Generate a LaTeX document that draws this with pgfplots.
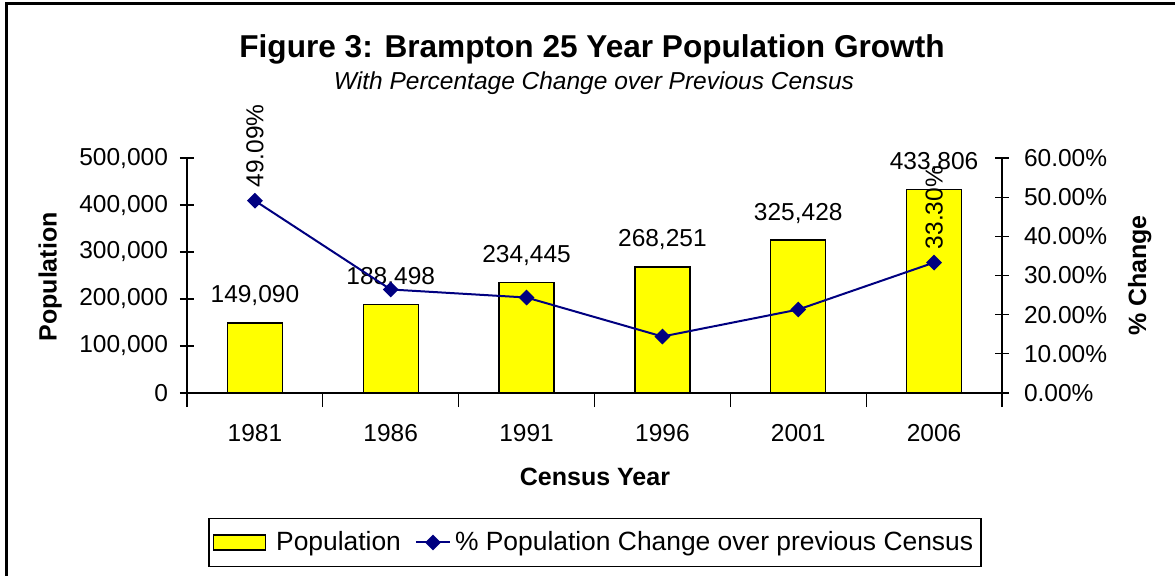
\documentclass[border=0pt]{standalone}
\usepackage{pgfplots}
\pgfplotsset{compat=1.18}
\usepackage{fontspec}
\setmainfont{Liberation Sans}
\definecolor{barY}{RGB}{255,255,0}
\definecolor{navyL}{RGB}{0,0,128}

\begin{document}
\begin{tikzpicture}
\pgfplotsset{
 common/.style={
  scale only axis, width=407.5pt, height=117.5pt,
  at={(93.5pt,91pt)}, anchor=south west,
  xmin=-0.5, xmax=5.5,
  /pgf/number format/assume math mode=true,
  tick align=center,
  major tick length=7pt,
  minor tick length=7pt,
  axis line style={line width=0.6pt, -},
  every tick/.style={black, line width=0.6pt},
  tick label style={font=\fontsize{12.25}{14}\selectfont},
  label style={font=\fontsize{12.5}{15}\selectfont\bfseries},
 }
}
\begin{axis}[common,
  axis x line*=bottom, axis y line*=left,
  ymin=0, ymax=500000, ytick={0,100000,...,500000},
  scaled y ticks=false,
  yticklabel style={/pgf/number format/.cd, fixed, 1000 sep={,}},
  yticklabel shift=2.5pt,
  xtick={0,...,5}, xticklabels={1981,1986,1991,1996,2001,2006},
  minor xtick={-0.5,0.5,...,5.5},
  major x tick style={draw=none},
  xticklabel shift=5pt,
  ylabel={Population}, xlabel={Census Year},
  ylabel style={at={(-0.168,0.494)}, anchor=center},
  xlabel style={at={(0.5006,-0.357)}, anchor=center},
  ybar, bar width=27.5pt,
  nodes near coords={\pgfmathprintnumber[fixed,precision=0,1000 sep={,}]{\pgfplotspointmeta}},
  nodes near coords style={font=\fontsize{12.25}{14}\selectfont, anchor=base, yshift=10pt, inner sep=0pt},
]
\addplot[fill=barY, draw=black, line width=0.6pt] coordinates {(0,149090) (1,188498) (2,234445) (3,268251) (4,325428) (5,433806)};
\end{axis}
\begin{axis}[common,
  axis x line=none, axis y line*=right,
  ymin=0, ymax=60, ytick={0,10,...,60},
  yticklabel={\pgfmathprintnumber[fixed,fixed zerofill,precision=2]{\tick}\%},
  yticklabel shift=4pt,
  ylabel={\% Change},
  ylabel style={at={(1.169,0.5)}, anchor=center},
  legend style={at={(0.5006,-0.636)}, anchor=center, legend columns=-1, draw=black, line width=0.75pt,
    font=\fontsize{13.2}{15}\selectfont, inner ysep=4.5pt, inner xsep=2pt,
    /tikz/every odd column/.append style={column sep=0pt},
    /tikz/every even column/.append style={column sep=5pt}},
]
\addlegendimage{legend image code/.code={\draw[fill=barY, draw=black, line width=0.6pt] (0pt,-3.75pt) rectangle (26pt,3.75pt); \path (29pt,0pt);}}
\addlegendentry{Population}
\addplot[navyL, line width=1pt, mark=square*, mark size=2.3pt, mark options={rotate=45, fill=navyL, draw=navyL}] coordinates {(0,49.09) (1,26.43) (2,24.38) (3,14.42) (4,21.31) (5,33.30)};
\addlegendentry{\% Population Change over previous Census}
\addplot[draw=none, forget plot, nodes near coords={\pgfmathprintnumber[fixed,fixed zerofill,precision=2]{\pgfplotspointmeta}\%},
  nodes near coords style={rotate=90, anchor=west, inner xsep=6.5pt, inner ysep=0pt, font=\fontsize{12.25}{14}\selectfont}] coordinates {(0,49.09) (5,33.30)};
\end{axis}
\node[anchor=base, font=\fontsize{15.8}{19}\selectfont\bfseries] at (296pt,259pt) {Figure 3: Brampton 25 Year Population Growth};
\node[anchor=base, font=\fontsize{12.25}{14}\selectfont\itshape] at (297pt,243pt) {With Percentage Change over Previous Census};
\draw[line width=1.5pt] (3pt,-10pt) -- (3pt,286pt) -- (600pt,286pt);
\pgfresetboundingbox
\path[use as bounding box] (0pt,0pt) rectangle (587.5pt,287.5pt);
\end{tikzpicture}
\end{document}
